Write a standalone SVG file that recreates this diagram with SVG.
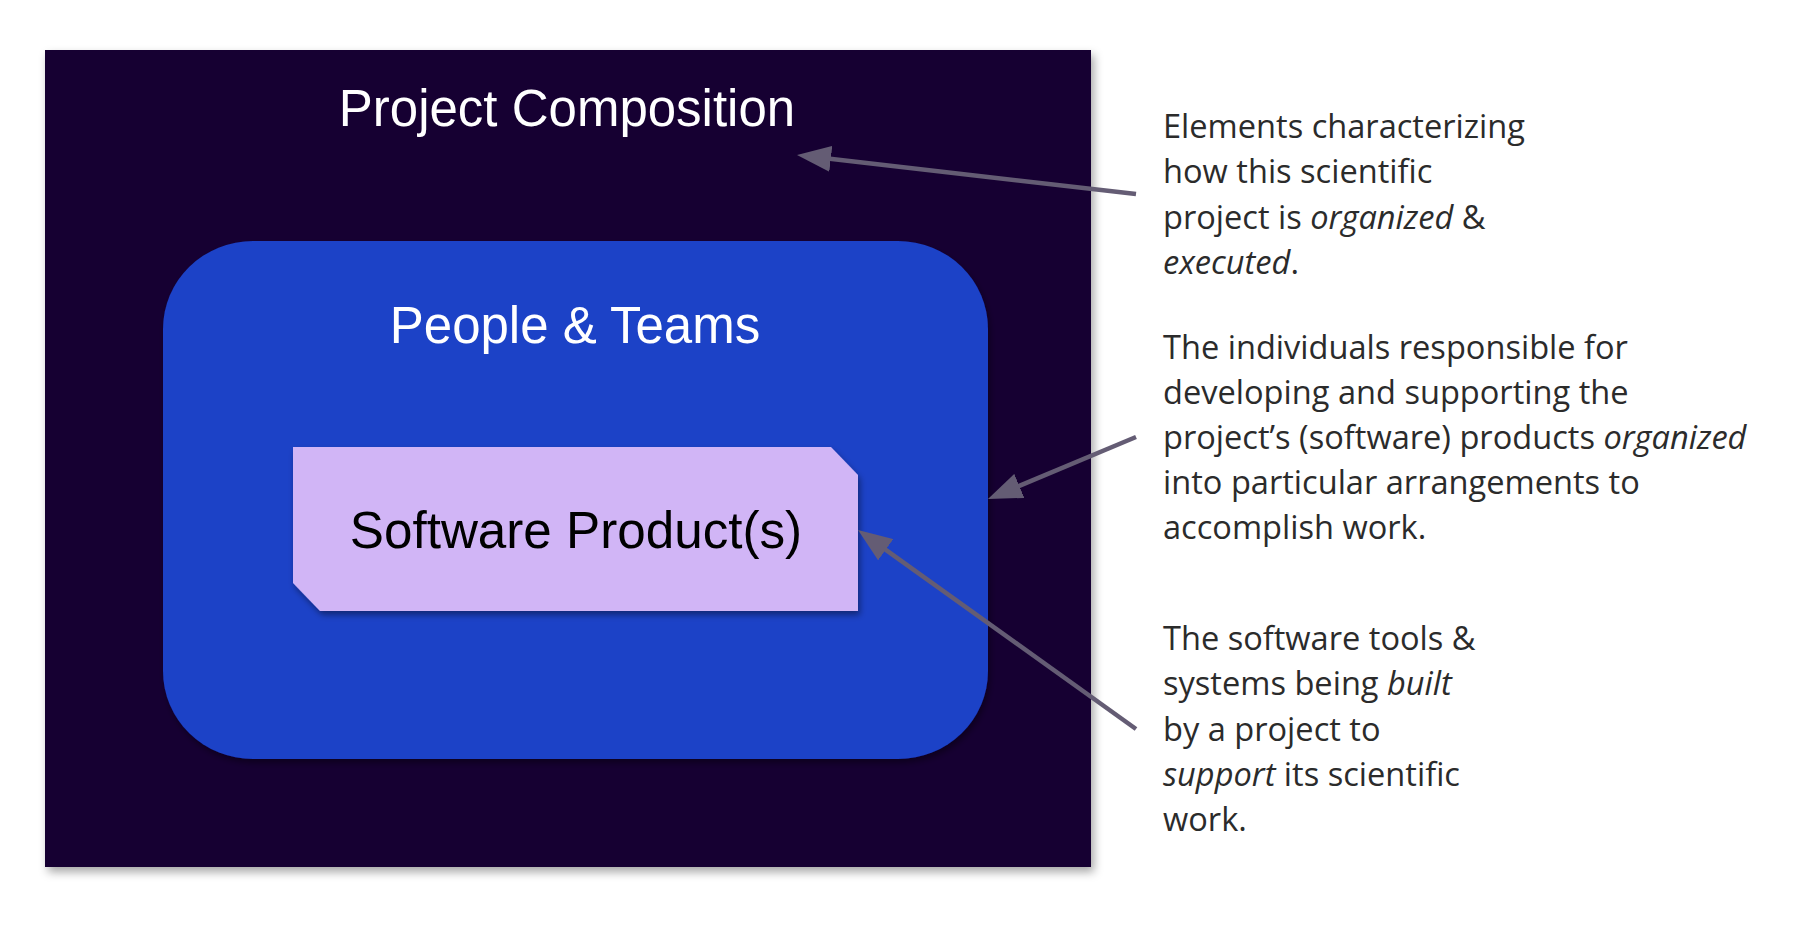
<svg xmlns="http://www.w3.org/2000/svg" width="1808" height="942" viewBox="0 0 1808 942">
<style>
.title{font-family:"Liberation Sans",Arial,sans-serif;fill:#ffffff;text-anchor:middle}
.prod{font-family:"Liberation Sans",Arial,sans-serif;fill:#000000;text-anchor:middle}
.note{font-family:"Open Sans",sans-serif;font-size:32.6px;fill:#2b2b2b}
.conn{stroke:#645c74;stroke-width:4.5;fill:none;marker-end:url(#ah)}
</style>
<defs>
<filter id="sh" x="-10%" y="-10%" width="125%" height="125%">
<feDropShadow dx="3" dy="5" stdDeviation="5" flood-color="#000" flood-opacity="0.35"/>
</filter>
<filter id="sh2" x="-10%" y="-10%" width="125%" height="125%">
<feDropShadow dx="2" dy="4" stdDeviation="3" flood-color="#000" flood-opacity="0.4"/>
</filter>
<marker id="ah" viewBox="0 0 34 26" refX="14" refY="13" markerWidth="34" markerHeight="26" markerUnits="userSpaceOnUse" orient="auto">
<path d="M0,0 L34,13 L0,26 Z" fill="#645c74"/>
</marker>
</defs>
<rect width="1808" height="942" fill="#ffffff"/>
<g id="project-composition">
<rect x="45" y="50" width="1046" height="817" fill="#160532" filter="url(#sh)"/>
<text class="title" x="567" y="126" font-size="51">Project Composition</text>
</g>
<g id="people-teams">
<rect x="163" y="241" width="825" height="518" rx="90" ry="88" fill="#1b42c7" filter="url(#sh2)"/>
<text class="title" x="575" y="343" font-size="51">People &amp; Teams</text>
</g>
<g id="software-products">
<path d="M293,447 L831,447 L858,475 L858,611 L320,611 L293,583 Z" fill="#d1b5f6" filter="url(#sh2)"/>
<text class="prod" x="576" y="548" font-size="51.2">Software Product(s)</text>
</g>
<g id="connectors">
<line class="conn" x1="1136" y1="194" x2="816.9" y2="157.3"/>
<line class="conn" x1="1136" y1="437" x2="1006.4" y2="491.3"/>
<line class="conn" x1="1136" y1="729" x2="874.3" y2="541.6"/>
</g>
<g id="note-composition">
<text class="note" x="1163" y="137.5">Elements characterizing</text>
<text class="note" x="1163" y="183">how this scientific</text>
<text class="note" x="1163" y="228.5">project is <tspan font-style="italic">organized</tspan> &amp;</text>
<text class="note" x="1163" y="273.5"><tspan font-style="italic">executed</tspan>.</text>
</g>
<g id="note-people">
<text class="note" x="1163" y="358.5">The individuals responsible for</text>
<text class="note" x="1163" y="403.5">developing and supporting the</text>
<text class="note" x="1163" y="448.5">project’s (software) products <tspan font-style="italic">organized</tspan></text>
<text class="note" x="1163" y="493.5">into particular arrangements to</text>
<text class="note" x="1163" y="538.5">accomplish work.</text>
</g>
<g id="note-software">
<text class="note" x="1163" y="649.5">The software tools &amp;</text>
<text class="note" x="1163" y="694.5">systems being <tspan font-style="italic">built</tspan></text>
<text class="note" x="1163" y="740.5">by a project to</text>
<text class="note" x="1163" y="785.5"><tspan font-style="italic">support</tspan> its scientific</text>
<text class="note" x="1163" y="830.5">work.</text>
</g>
</svg>
